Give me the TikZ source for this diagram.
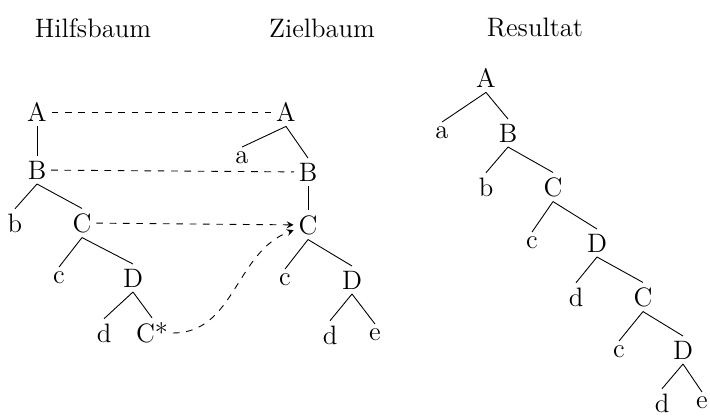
\documentclass[tikz,border=0pt]{standalone}
\usepackage{amsmath,amssymb}
\usepackage{tikz}

\begin{document}
\begin{tikzpicture}[x=0.45pt, y=-0.45pt, every node/.style={font=\fontsize{12}{14}\selectfont, inner sep=2pt}]
    \useasboundingbox (0,0) rectangle (710,417);

    \node (T1) at (93, 28) {Hilfsbaum};
    \node (T2) at (322, 28) {Zielbaum};
    \node (T3) at (535, 28) {Resultat};

    % Hilfsbaum
    \node (hA) at (37, 112) {A};
    \node (hB) at (37, 170) {B};
    \node (hb) at (15, 223) {b};
    \node (hC) at (82, 223) {C};
    \node (hc) at (59, 278) {c};
    \node (hD) at (133, 278) {D};
    \node (hd) at (104, 333) {d};
    \node (hCs) at (152, 333) {C*};

    \draw (hA.south) -- (hB.north);
    \draw (hB.south) -- (hb.north);
    \draw (hB.south) -- (hC.north);
    \draw (hC.south) -- (hc.north);
    \draw (hC.south) -- (hD.north);
    \draw (hD.south) -- (hd.north);
    \draw (hD.south) -- (hCs.north);

    % Zielbaum
    \node (zA) at (286, 112) {A};
    \node (za) at (242, 158) {a};
    \node (zB) at (308, 172) {B};
    \node (zC) at (308, 225) {C};
    \node (zc) at (285, 280) {c};
    \node (zD) at (352, 280) {D};
    \node (zd) at (330, 335) {d};
    \node (ze) at (375, 335) {e};

    \draw (zA.south) -- (za.north);
    \draw (zA.south) -- (zB.north);
    \draw (zB.south) -- (zC.north);
    \draw (zC.south) -- (zc.north);
    \draw (zC.south) -- (zD.north);
    \draw (zD.south) -- (zd.north);
    \draw (zD.south) -- (ze.north);

    \draw[dashed] (hA) -- (zA);
    \draw[dashed] (hB) -- (zB);
    \draw[dashed,->,>=stealth] (hC) -- (zC);
    \draw[dashed,->,>=stealth] (hCs) to[out=0,in=200] (zC);

    % Resultat
    \node (rA) at (486, 78) {A};
    \node (ra) at (442, 133) {a};
    \node (rB) at (508, 133) {B};
    \node (rb) at (486, 187) {b};
    \node (rC) at (553, 187) {C};
    \node (rc) at (532, 243) {c};
    \node (rD) at (597, 243) {D};
    \node (rd) at (576, 297) {d};
    \node (rC2) at (643, 297) {C};
    \node (rc2) at (619, 352) {c};
    \node (rD2) at (683, 350) {D};
    \node (rd2) at (662, 403) {d};
    \node (re2) at (702, 403) {e};

    \draw (rA.south) -- (ra.north);
    \draw (rA.south) -- (rB.north);
    \draw (rB.south) -- (rb.north);
    \draw (rB.south) -- (rC.north);
    \draw (rC.south) -- (rc.north);
    \draw (rC.south) -- (rD.north);
    \draw (rD.south) -- (rd.north);
    \draw (rD.south) -- (rC2.north);
    \draw (rC2.south) -- (rc2.north);
    \draw (rC2.south) -- (rD2.north);
    \draw (rD2.south) -- (rd2.north);
    \draw (rD2.south) -- (re2.north);
  \end{tikzpicture}
\end{document}
